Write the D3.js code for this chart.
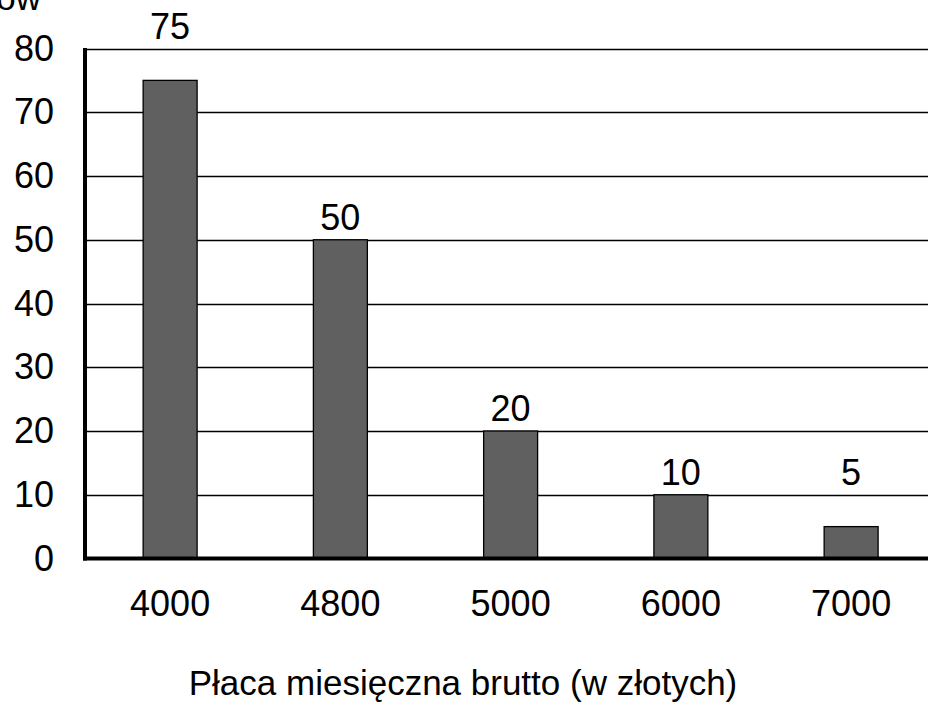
<!DOCTYPE html>
<html>
<head>
<meta charset="utf-8">
<script src="https://cdn.jsdelivr.net/npm/d3@7"></script>
<style>
  html, body { margin: 0; padding: 0; background: #fff; }
  svg { display: block; font-family: "Liberation Sans", Arial, sans-serif; }
</style>
</head>
<body>
<svg id="chart" width="928" height="705"></svg>
<script>
// Data
const categories = ["4000", "4800", "5000", "6000", "7000"];
const values = [75, 50, 20, 10, 5];
const yTicks = [0, 10, 20, 30, 40, 50, 60, 70, 80];
const xTitle = "Płaca miesięczna brutto (w złotych)";
const yTitle = "Liczba pracowników";

(function () {
const svg = d3.select("#chart");
const mLeft = 85, mRight = 936.25, mTop = 48.5, mBottom = 558.5;

const x = d3.scaleBand()
  .domain(categories)
  .range([mLeft, mRight])
  .paddingInner(0.683)
  .paddingOuter(0.3415);

const y = d3.scaleLinear().domain([0, 80]).range([mBottom, mTop]);

// gridlines
svg.append("g").selectAll("line")
  .data(yTicks.filter(d => d > 0))
  .join("line")
  .attr("x1", mLeft).attr("x2", mRight)
  .attr("y1", d => Math.round(y(d)) + 0.5).attr("y2", d => Math.round(y(d)) + 0.5)
  .attr("stroke", "#000").attr("stroke-width", 1.3);

// bars
svg.append("g").selectAll("rect")
  .data(values)
  .join("rect")
  .attr("x", (d, i) => x(categories[i]))
  .attr("y", d => y(d))
  .attr("width", x.bandwidth())
  .attr("height", d => y(0) - y(d))
  .attr("fill", "#606060")
  .attr("stroke", "#000")
  .attr("stroke-width", 1.3);

// value labels
svg.append("g").selectAll("text")
  .data(values)
  .join("text")
  .attr("x", (d, i) => x(categories[i]) + x.bandwidth() / 2)
  .attr("y", d => y(Math.ceil(d / 10) * 10) - 10)
  .attr("text-anchor", "middle")
  .attr("font-size", 36)
  .attr("fill", "#000")
  .text(d => d);

// y axis labels
const yAxis = svg.append("g")
  .attr("transform", `translate(${mLeft},0)`)
  .call(d3.axisLeft(y).tickValues(yTicks).tickSize(0).tickPadding(31));
yAxis.select(".domain").remove();
yAxis.selectAll("text").attr("font-size", 36).attr("font-family", "Liberation Sans, Arial, sans-serif").attr("fill", "#000");

// x axis labels
const xAxis = svg.append("g")
  .attr("transform", `translate(0,${mBottom})`)
  .call(d3.axisBottom(x).tickSize(0).tickPadding(32));
xAxis.select(".domain").remove();
xAxis.selectAll("text").attr("font-size", 36).attr("font-family", "Liberation Sans, Arial, sans-serif").attr("fill", "#000");

// axis lines (thick)
svg.append("line")
  .attr("x1", mLeft).attr("x2", mLeft)
  .attr("y1", mTop - 0.5).attr("y2", mBottom + 2)
  .attr("stroke", "#000").attr("stroke-width", 4);
svg.append("line")
  .attr("x1", mLeft - 2).attr("x2", mRight)
  .attr("y1", mBottom).attr("y2", mBottom)
  .attr("stroke", "#000").attr("stroke-width", 4);

// titles
svg.append("text")
  .attr("x", 463).attr("y", 695)
  .attr("text-anchor", "middle")
  .attr("font-size", 35)
  .attr("fill", "#000")
  .text(xTitle);

svg.append("text")
  .attr("x", 41).attr("y", 10)
  .attr("text-anchor", "end")
  .attr("font-size", 35)
  .attr("fill", "#000")
  .text(yTitle);
})();
</script>
</body>
</html>
